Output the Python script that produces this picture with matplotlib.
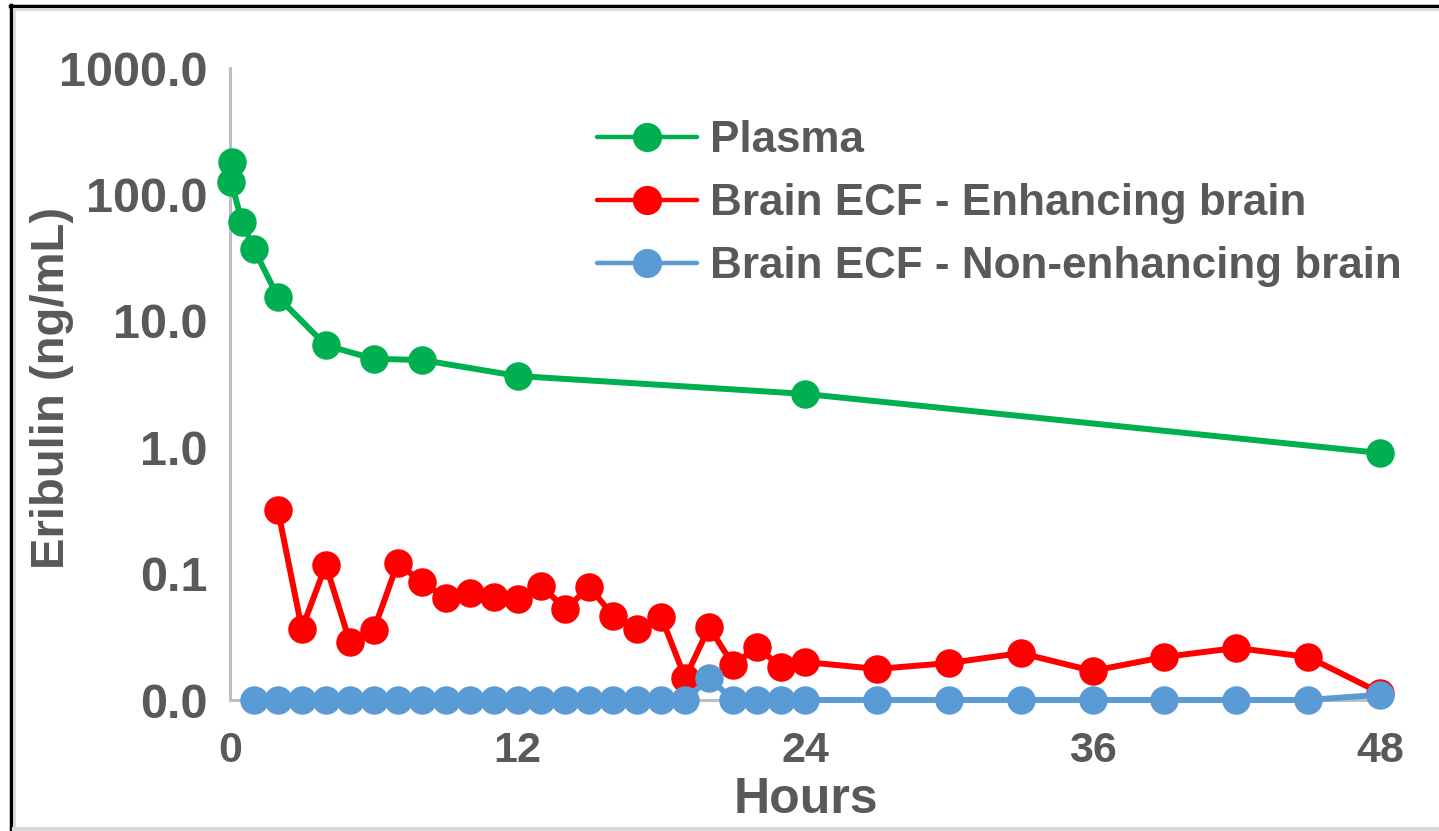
import matplotlib
matplotlib.use("Agg")
import matplotlib.pyplot as plt
from matplotlib.lines import Line2D
from matplotlib.ticker import FixedLocator, FixedFormatter, NullLocator

# ---- data ----
plasma_t = [0.1, 0.05, 0.5, 1, 2, 4, 6, 8, 12, 24, 48]
plasma_v = [180, 125, 61, 37, 15.4, 6.4, 5.0, 4.9, 3.66, 2.64, 0.90]

enh_t = [2, 3, 4, 5, 6, 7, 8, 9, 10, 11, 12, 13, 14, 15, 16, 17, 18, 19, 20, 21,
         22, 23, 24, 27, 30, 33, 36, 39, 42, 45, 48]
enh_v = [0.318, 0.0365, 0.117, 0.0288, 0.0358, 0.121, 0.0858, 0.0641, 0.0703,
         0.0653, 0.063, 0.0798, 0.0525, 0.0783, 0.0462, 0.0365, 0.0454, 0.0149,
         0.0378, 0.0189, 0.0263, 0.0182, 0.020, 0.0176, 0.0196, 0.0235, 0.017,
         0.0219, 0.0258, 0.0219, 0.0114]

non_t = [1, 2, 3, 4, 5, 6, 7, 8, 9, 10, 11, 12, 13, 14, 15, 16, 17, 18, 19, 20,
         21, 22, 23, 24, 27, 30, 33, 36, 39, 42, 45, 48]
non_v = [0.01] * 19 + [0.0149] + [0.01] * 11 + [0.0110]

series_names = ["Plasma", "Brain ECF - Enhancing brain",
                "Brain ECF - Non-enhancing brain"]
y_ticks = [0.01, 0.1, 1, 10, 100, 1000]
y_tick_labels = ["0.0", "0.1", "1.0", "10.0", "100.0", "1000.0"]
x_ticks = [0, 12, 24, 36, 48]
x_tick_labels = ["0", "12", "24", "36", "48"]

# ---- style ----
TXT = "#595959"
AX = "#BFBFBF"
colors = ["#00B050", "#FF0000", "#5B9BD5"]
W, H = 1439, 831
fig = plt.figure(figsize=(W / 100, H / 100), dpi=100)
fig.patch.set_facecolor("white")

ax = fig.add_axes([230 / W, (H - 700) / H, 1150 / W, 632 / H])
ax.set_yscale("log")
ax.set_xlim(0, 48)
ax.set_ylim(0.01, 1000)

ms = 19.5
lw = 4.3
for t, v, c, name in zip([plasma_t, enh_t, non_t], [plasma_v, enh_v, non_v],
                         colors, series_names):
    ax.plot(t, v, color=c, lw=lw, marker="o", ms=ms, mec=c, mfc=c,
            clip_on=False, label=name, zorder=3, solid_capstyle="round")

for s in ["top", "right"]:
    ax.spines[s].set_visible(False)
for s in ["left", "bottom"]:
    ax.spines[s].set_color(AX)
    ax.spines[s].set_linewidth(2.2)
    ax.spines[s].set_zorder(1)

ax.yaxis.set_major_locator(FixedLocator(y_ticks))
ax.yaxis.set_major_formatter(FixedFormatter(y_tick_labels))
ax.yaxis.set_minor_locator(NullLocator())
ax.set_xticks(x_ticks)
ax.set_xticklabels(x_tick_labels)
ax.tick_params(axis="both", length=0)
ax.tick_params(axis="y", pad=16)
ax.tick_params(axis="x", pad=22)
for lab in ax.get_yticklabels():
    lab.set_family(["Liberation Sans", "DejaVu Sans"])
    lab.set_weight("bold")
    lab.set_fontsize(35)
    lab.set_color(TXT)
for lab in ax.get_xticklabels():
    lab.set_family(["Liberation Sans", "DejaVu Sans"])
    lab.set_weight("bold")
    lab.set_fontsize(31)
    lab.set_color(TXT)

fig.text(806 / W, (H - 800) / H, "Hours", ha="center", va="center",
         fontsize=36, fontweight="bold", color=TXT,
         family=["Liberation Sans", "DejaVu Sans"])
fig.text(52 / W, (H - 388) / H, "Eribulin (ng/mL)", ha="center", va="center",
         rotation=90, fontsize=34, fontweight="bold", color=TXT,
         family=["Liberation Sans", "DejaVu Sans"])

handles = [Line2D([], [], color=c, lw=3.2, marker="o", ms=20, mec=c, mfc=c,
                  solid_capstyle="round") for c in colors]
leg = ax.legend(handles, series_names, loc="upper left",
                bbox_to_anchor=(597 / W, (H - 120) / H),
                bbox_transform=fig.transFigure, frameon=False,
                handlelength=2.27, handletextpad=0.3, labelspacing=0.5,
                borderpad=0, borderaxespad=0,
                prop={"family": ["Liberation Sans", "DejaVu Sans"],
                      "weight": "bold", "size": 31.7})
for t in leg.get_texts():
    t.set_color(TXT)

# outer frame (black left/top, light gray inner and bottom)
fig.add_artist(Line2D([11 / W, 11 / W], [0, 1 - 5 / H], color="black", lw=2.5,
                      transform=fig.transFigure))
fig.add_artist(Line2D([10 / W, 1], [1 - 6 / H, 1 - 6 / H], color="black", lw=2.5,
                      transform=fig.transFigure))
fig.add_artist(Line2D([14 / W, 14 / W], [2 / H, 1 - 9 / H], color="#D9D9D9",
                      lw=2, transform=fig.transFigure))
fig.add_artist(Line2D([14 / W, 1], [1 - 9 / H, 1 - 9 / H], color="#D9D9D9",
                      lw=2, transform=fig.transFigure))
fig.add_artist(Line2D([14 / W, 1], [2 / H, 2 / H], color="#D9D9D9",
                      lw=3, transform=fig.transFigure))

fig.savefig("out.png", dpi=100, facecolor="white")
